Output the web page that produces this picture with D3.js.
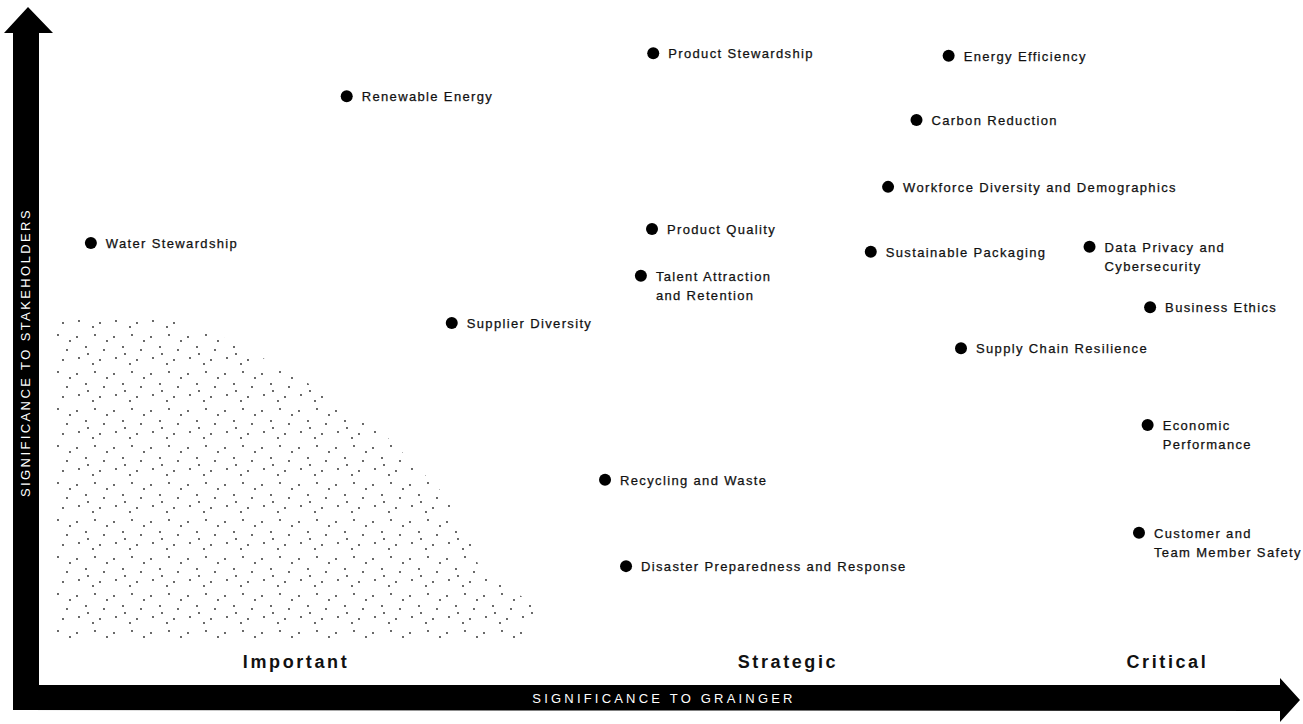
<!DOCTYPE html>
<html>
<head>
<meta charset="utf-8">
<script src="https://cdn.jsdelivr.net/npm/d3@7"></script>
<style>
  html, body { margin: 0; padding: 0; background: #fff; }
  svg { display: block; }
  .lbl { font-family: "Liberation Sans", Arial, sans-serif; font-size: 13px; letter-spacing: 1.35px; fill: #111; stroke: #111; stroke-width: 0.25px; }
  .zone { font-family: "Liberation Sans", Arial, sans-serif; font-size: 18px; font-weight: bold; letter-spacing: 2.6px; fill: #111; }
  .axlbl { font-family: "Liberation Sans", Arial, sans-serif; font-size: 13px; fill: #fff; }
</style>
</head>
<body>
<script>
// ---- Data ----
const topics = [
  "Product Stewardship", "Energy Efficiency", "Renewable Energy", "Carbon Reduction",
  "Workforce Diversity and Demographics", "Product Quality", "Water Stewardship",
  "Sustainable Packaging", "Data Privacy and\nCybersecurity", "Talent Attraction\nand Retention",
  "Business Ethics", "Supplier Diversity", "Supply Chain Resilience",
  "Economic\nPerformance", "Recycling and Waste", "Customer and\nTeam Member Safety",
  "Disaster Preparedness and Response"
];
// significance to Grainger (x) and to stakeholders (y), 0-10
const graingerScore     = [5.01, 7.40, 2.53, 7.14, 6.91, 5.00, 0.46, 6.77, 8.54, 4.91, 9.03, 3.38, 7.50, 9.01, 4.62, 8.94, 4.79];
const stakeholderScore  = [9.63, 9.59, 8.95, 8.57, 7.51, 6.84, 6.62, 6.48, 6.56, 6.10, 5.60, 5.35, 4.95, 3.73, 2.86, 2.02, 1.49];
const zoneNames  = ["Important", "Strategic", "Critical"];
const zoneCenter = [2.12, 6.10, 9.17];
const xAxisTitle = "SIGNIFICANCE TO GRAINGER";
const yAxisTitle = "SIGNIFICANCE TO STAKEHOLDERS";

// ---- Layout ----
const W = 1303, H = 724;
const x = d3.scaleLinear().domain([0, 10]).range([34, 1270]);
const y = d3.scaleLinear().domain([0, 10]).range([660, 30]);

const svg = d3.select("body").append("svg").attr("width", W).attr("height", H);

// stipple texture in the lower-left zone
const defs = svg.append("defs");
const pat = defs.append("pattern").attr("id", "stip").attr("patternUnits", "userSpaceOnUse")
  .attr("width", 37).attr("height", 37);
[[3,4],[21,2],[12,14],[30,17],[5,25],[19,31],[14,21],[33,8],[26,27]].forEach(p =>
  pat.append("circle").attr("cx", p[0]).attr("cy", p[1]).attr("r", 0.9).attr("fill", "#222"));
const stipPoly = [[57,318],[180,318],[240,345],[320,390],[380,430],[460,510],[480,570],[535,605],[535,640],[57,640]];
svg.append("path").attr("d", d3.line()(stipPoly) + "Z").attr("fill", "url(#stip)");

// ---- Axes arrows ----
svg.append("path")
  .attr("d", d3.line()([[13,710],[13,33],[4,33],[28,7],[53,33],[39,33],[39,685],[1280,685],[1280,678],[1300,700],[1280,722],[1280,711]]) + "Z")
  .attr("fill", "#000");

svg.append("text").attr("class", "axlbl")
  .attr("transform", `translate(30,${(210+495)/2}) rotate(-90)`)
  .attr("text-anchor", "middle")
  .style("letter-spacing", "2.4px")
  .text(yAxisTitle);
svg.append("text").attr("class", "axlbl")
  .attr("x", 664).attr("y", 703)
  .attr("text-anchor", "middle")
  .style("letter-spacing", "3.2px")
  .text(xAxisTitle);

// ---- Zone labels ----
svg.selectAll("text.zone").data(zoneNames).join("text")
  .attr("class", "zone")
  .attr("x", (d, i) => x(zoneCenter[i]))
  .attr("y", 668)
  .attr("text-anchor", "middle")
  .text(d => d);

// ---- Points ----
const g = svg.append("g");
const pts = g.selectAll("g.pt").data(topics).join("g")
  .attr("class", "pt")
  .attr("transform", (d, i) => `translate(${x(graingerScore[i])},${y(stakeholderScore[i])})`);
pts.append("circle").attr("r", 6).attr("fill", "#000");
pts.each(function(d) {
  const lines = d.split("\n");
  const t = d3.select(this).append("text").attr("class", "lbl").attr("x", 15).attr("y", 5);
  lines.forEach((ln, k) => {
    t.append("tspan").attr("x", 15).attr("dy", k === 0 ? 0 : 19).text(ln);
  });
});
</script>
</body>
</html>
